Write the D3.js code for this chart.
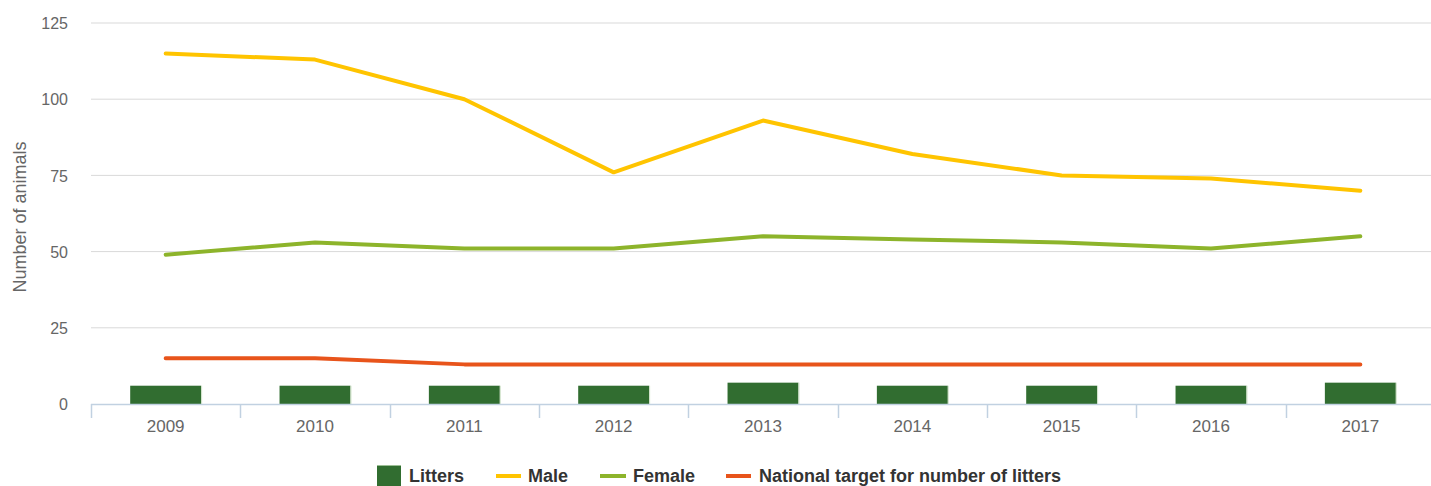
<!DOCTYPE html>
<html>
<head>
<meta charset="utf-8">
<script src="https://cdn.jsdelivr.net/npm/d3@7"></script>
<style>
  html, body { margin: 0; padding: 0; background: #fff; }
  svg { display: block; font-family: "Liberation Sans", Arial, sans-serif; }
</style>
</head>
<body>
<svg id="chart" width="1431" height="486"></svg>
<script>
// Yearly counts
const years = ["2009", "2010", "2011", "2012", "2013", "2014", "2015", "2016", "2017"];
const litters = [6, 6, 6, 6, 7, 6, 6, 6, 7];
const male = [115, 113, 100, 76, 93, 82, 75, 74, 70];
const female = [49, 53, 51, 51, 55, 54, 53, 51, 55];
const nationalTarget = [15, 15, 13, 13, 13, 13, 13, 13, 13];
const yTicks = [0, 25, 50, 75, 100, 125];

const svg = d3.select("#chart");
const plot = { left: 91, right: 1435, top: 23, bottom: 404 };

const x = d3.scaleBand().domain(years).range([plot.left, plot.right]).padding(0);
const y = d3.scaleLinear().domain([0, 125]).range([plot.bottom, plot.top]);

// horizontal grid
svg.append("g")
  .selectAll("line")
  .data(yTicks.filter(d => d > 0))
  .join("line")
  .attr("x1", plot.left).attr("x2", 1431)
  .attr("y1", d => y(d)).attr("y2", d => y(d))
  .attr("stroke", "#d9d9d9").attr("stroke-width", 1);

// y axis labels
const yAxis = d3.axisLeft(y).tickValues(yTicks).tickSize(0).tickPadding(0);
const gy = svg.append("g").attr("transform", "translate(68,0)").call(yAxis);
gy.select(".domain").remove();
gy.selectAll("text")
  .attr("fill", "#666").attr("font-size", 16)
  .attr("font-family", "Liberation Sans, Arial, sans-serif")
  .attr("dy", "0.35em");

svg.append("text")
  .attr("transform", "translate(26,217) rotate(-90)")
  .attr("text-anchor", "middle")
  .attr("fill", "#666").attr("font-size", 18)
  .text("Number of animals");

// litter bars
const barW = x.bandwidth() * 0.475;
svg.append("g")
  .selectAll("rect")
  .data(years.map((yr, i) => ({ yr, v: litters[i] })))
  .join("rect")
  .attr("x", d => x(d.yr) + x.bandwidth() / 2 - barW / 2)
  .attr("width", barW)
  .attr("y", d => y(d.v))
  .attr("height", d => y(0) - y(d.v))
  .attr("fill", "#316d30");
svg.append("g")
  .selectAll("line")
  .data(years.map((yr, i) => ({ yr, v: litters[i] })))
  .join("line")
  .attr("x1", d => x(d.yr) + x.bandwidth() / 2 + barW / 2 + 0.5)
  .attr("x2", d => x(d.yr) + x.bandwidth() / 2 + barW / 2 + 0.5)
  .attr("y1", d => y(d.v)).attr("y2", y(0))
  .attr("stroke", "#cfe2c9").attr("stroke-width", 1);

// x axis
const xAxis = d3.axisBottom(x).tickSize(0).tickPadding(0);
const gx = svg.append("g").attr("transform", `translate(0,${plot.bottom})`).call(xAxis);
gx.select(".domain").remove();
gx.selectAll("text")
  .attr("fill", "#666").attr("font-size", 17)
  .attr("font-family", "Liberation Sans, Arial, sans-serif")
  .attr("dy", 0).attr("y", 28);
svg.append("line")
  .attr("x1", plot.left).attr("x2", 1431)
  .attr("y1", plot.bottom + 0.5).attr("y2", plot.bottom + 0.5)
  .attr("stroke", "#c1d1e1").attr("stroke-width", 1.5);
svg.append("g")
  .selectAll("line")
  .data(years.map((yr, i) => i))
  .join("line")
  .attr("x1", i => Math.round(x(years[i])) + 0.5)
  .attr("x2", i => Math.round(x(years[i])) + 0.5)
  .attr("y1", plot.bottom).attr("y2", plot.bottom + 14)
  .attr("stroke", "#c1d1e1").attr("stroke-width", 1.5);

// series lines
const cx = yr => x(yr) + x.bandwidth() / 2;
const line = d3.line().x(d => cx(d.yr)).y(d => y(d.v));
const series = [
  { name: "Male", values: male, color: "#ffc400" },
  { name: "Female", values: female, color: "#8db42b" },
  { name: "National target for number of litters", values: nationalTarget, color: "#e8541b" }
];
series.forEach(s => {
  svg.append("path")
    .datum(years.map((yr, i) => ({ yr, v: s.values[i] })))
    .attr("d", line)
    .attr("fill", "none")
    .attr("stroke", s.color)
    .attr("stroke-width", 4)
    .attr("stroke-linejoin", "round")
    .attr("stroke-linecap", "round");
});

// legend
const lg = svg.append("g").attr("font-size", 18).attr("font-weight", "bold").attr("fill", "#333");
lg.append("rect").attr("x", 377).attr("y", 466).attr("width", 24).attr("height", 20).attr("fill", "#316d30");
lg.append("line").attr("x1", 377).attr("x2", 401).attr("y1", 465.5).attr("y2", 465.5).attr("stroke", "#9cbf95").attr("stroke-width", 1);
lg.append("text").attr("x", 409).attr("y", 482).text("Litters");
const legendLines = [
  { x1: 496, x2: 521, tx: 528, s: series[0] },
  { x1: 600, x2: 626, tx: 633, s: series[1] },
  { x1: 726, x2: 751, tx: 759, s: series[2] }
];
legendLines.forEach(l => {
  lg.append("line").attr("x1", l.x1).attr("x2", l.x2).attr("y1", 476).attr("y2", 476)
    .attr("stroke", l.s.color).attr("stroke-width", 4);
  lg.append("text").attr("x", l.tx).attr("y", 482).text(l.s.name);
});
</script>
</body>
</html>
